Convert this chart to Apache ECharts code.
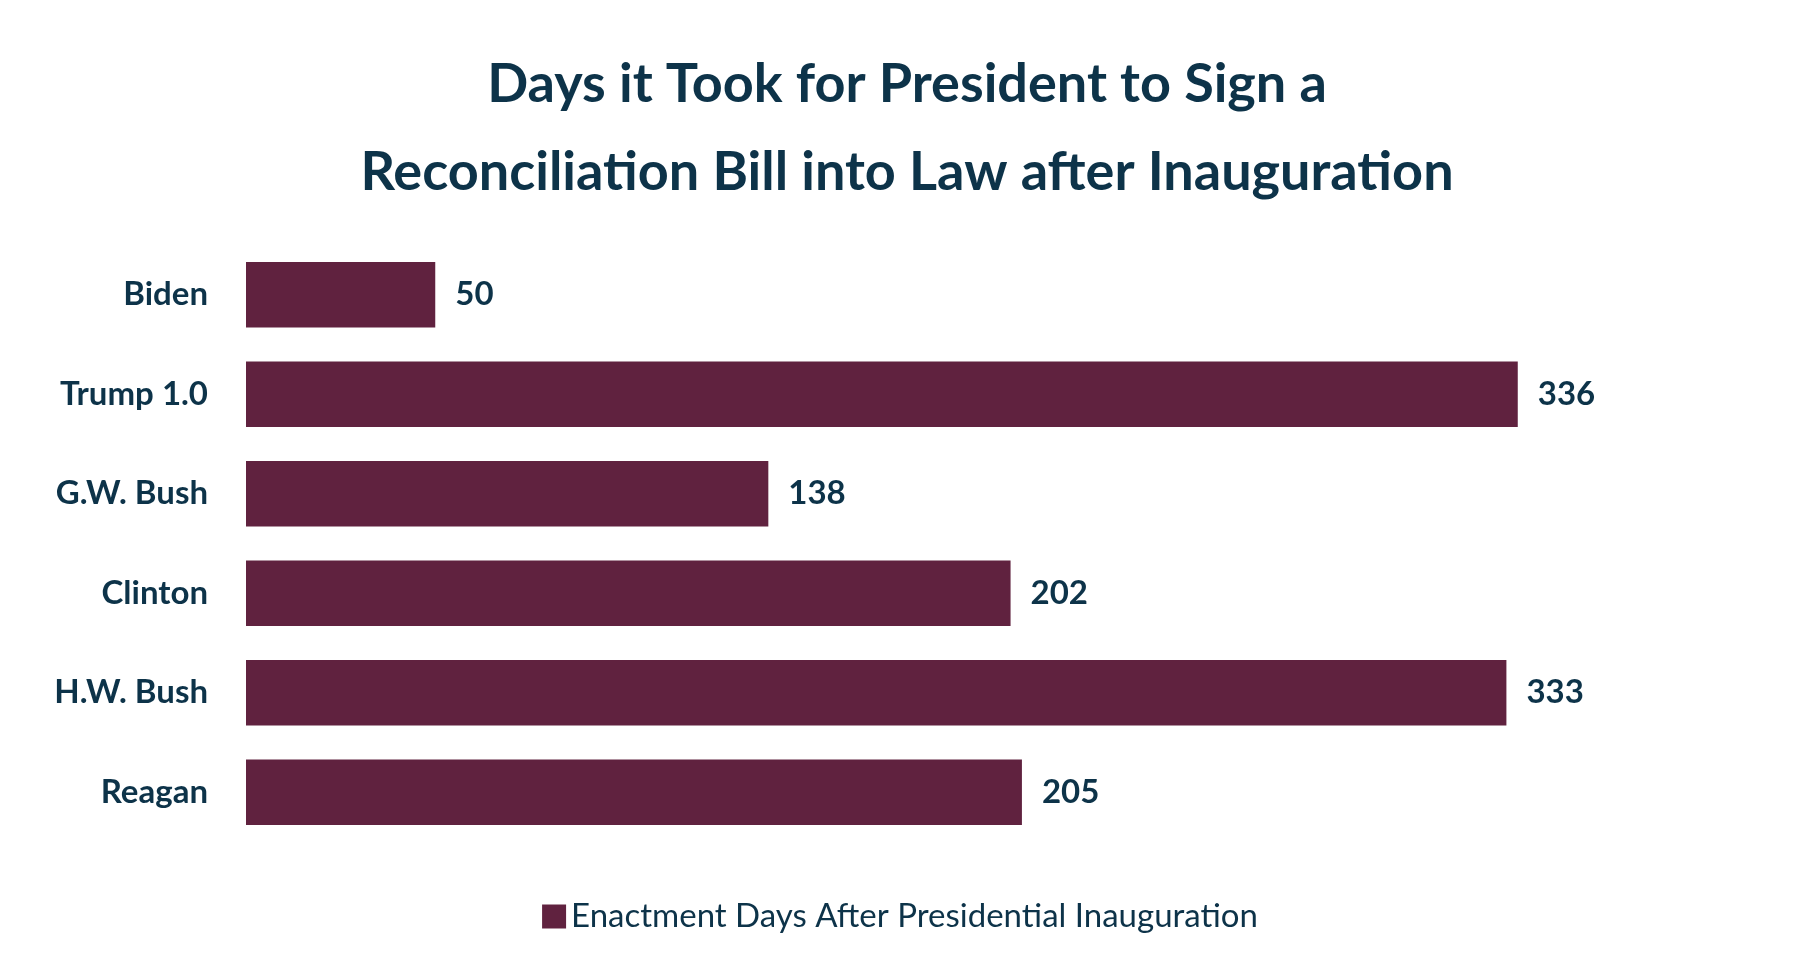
<!DOCTYPE html>
<html><head><meta charset="utf-8">
<script src="https://cdn.jsdelivr.net/npm/echarts@6/dist/echarts.min.js"></script>
<style>html,body{margin:0;padding:0;background:#fff}#c{width:1800px;height:976px}</style>
</head><body><div id="c"></div>
<script>
const categories = ['Biden','Trump 1.0','G.W. Bush','Clinton','H.W. Bush','Reagan'];
const days = [50,336,138,202,333,205];
const seriesName = 'Enactment Days After Presidential Inauguration';
const dark = '#0d3349';
const chart = echarts.init(document.getElementById('c'));
chart.setOption({
  animation:false,
  title:{text:'Days it Took for President to Sign a\nReconciliation Bill into Law after Inauguration',
    left:'center', left:902, textAlign:'center', top:36,
    textStyle:{fontFamily:'Lato',fontWeight:'bold',fontSize:54,color:dark,lineHeight:88}},
  legend:{bottom:38,left:'center',itemWidth:24,itemHeight:24,icon:'rect',
    textStyle:{fontFamily:'Lato',fontSize:33,color:dark}},
  grid:{left:246,top:245,width:1514,height:597,containLabel:false},
  xAxis:{type:'value',min:0,max:400,show:false},
  yAxis:{type:'category',data:categories,inverse:true,axisLine:{show:false},axisTick:{show:false},
    axisLabel:{fontFamily:'Lato',fontWeight:'bold',fontSize:33,color:dark,margin:38}},
  series:[{name:seriesName,type:'bar',data:days,barCategoryGap:'34%',
    itemStyle:{color:'#60223f'},
    label:{show:true,position:'right',distance:20,fontFamily:'Lato',fontWeight:'bold',fontSize:33,color:dark}}]
});
</script></body></html>
